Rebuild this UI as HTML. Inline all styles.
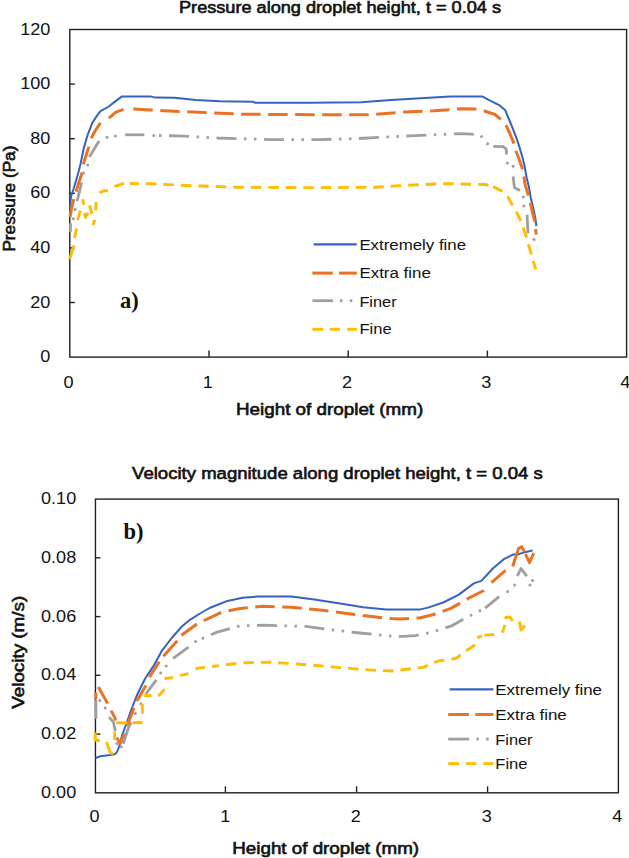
<!DOCTYPE html>
<html><head><meta charset="utf-8"><style>
html,body{margin:0;padding:0;background:#fff;width:629px;height:858px;overflow:hidden}
svg{display:block}
text{font-family:"Liberation Sans",sans-serif;fill:#111}
text.serif{font-family:"Liberation Serif",serif}
text.sb{stroke:#111;stroke-width:0.6px;paint-order:stroke}
</style></head><body>
<svg width="629" height="858" viewBox="0 0 629 858">
<rect width="629" height="858" fill="#fff"/>
<text x="179" y="13.4" font-size="16" class="sb" textLength="322" lengthAdjust="spacingAndGlyphs">Pressure along droplet height, t = 0.04 s</text>
<rect x="69.8" y="29.5" width="556.8000000000001" height="327.6" fill="none" stroke="#222" stroke-width="1.4"/>
<line x1="69.8" y1="302.5" x2="74.8" y2="302.5" stroke="#222" stroke-width="1.4"/>
<line x1="69.8" y1="247.9" x2="74.8" y2="247.9" stroke="#222" stroke-width="1.4"/>
<line x1="69.8" y1="193.3" x2="74.8" y2="193.3" stroke="#222" stroke-width="1.4"/>
<line x1="69.8" y1="138.7" x2="74.8" y2="138.7" stroke="#222" stroke-width="1.4"/>
<line x1="69.8" y1="84.1" x2="74.8" y2="84.1" stroke="#222" stroke-width="1.4"/>
<line x1="209.0" y1="357.1" x2="209.0" y2="350.6" stroke="#222" stroke-width="1.4"/>
<line x1="348.2" y1="357.1" x2="348.2" y2="350.6" stroke="#222" stroke-width="1.4"/>
<line x1="487.4" y1="357.1" x2="487.4" y2="350.6" stroke="#222" stroke-width="1.4"/>
<text transform="translate(50.3,362.1) scale(1.13,1)" font-size="16" text-anchor="end">0</text>
<text transform="translate(50.3,307.5) scale(1.13,1)" font-size="16" text-anchor="end">20</text>
<text transform="translate(50.3,252.9) scale(1.13,1)" font-size="16" text-anchor="end">40</text>
<text transform="translate(50.3,198.3) scale(1.13,1)" font-size="16" text-anchor="end">60</text>
<text transform="translate(50.3,143.7) scale(1.13,1)" font-size="16" text-anchor="end">80</text>
<text transform="translate(50.3,89.1) scale(1.13,1)" font-size="16" text-anchor="end">100</text>
<text transform="translate(50.3,34.5) scale(1.13,1)" font-size="16" text-anchor="end">120</text>
<text transform="translate(68.6,387.7) scale(1.13,1)" font-size="16" text-anchor="middle">0</text>
<text transform="translate(207.8,387.7) scale(1.13,1)" font-size="16" text-anchor="middle">1</text>
<text transform="translate(347.0,387.7) scale(1.13,1)" font-size="16" text-anchor="middle">2</text>
<text transform="translate(486.2,387.7) scale(1.13,1)" font-size="16" text-anchor="middle">3</text>
<text transform="translate(625.4,387.7) scale(1.13,1)" font-size="16" text-anchor="middle">4</text>
<text transform="translate(14.9,198.6) rotate(-90)" font-size="16" class="sb" text-anchor="middle" textLength="106" lengthAdjust="spacingAndGlyphs">Pressure (Pa)</text>
<text x="236" y="415.2" font-size="16" class="sb" textLength="187.2" lengthAdjust="spacingAndGlyphs">Height of droplet (mm)</text>
<text x="120" y="307.9" font-size="22.5" font-weight="bold" class="serif">a)</text>
<path d="M70.10,206.60 L71.00,196.40 L73.30,189.80 L76.10,180.50 L78.50,172.00 L80.50,164.00 L83.70,148.50 L87.50,135.40 L92.10,123.30 L96.80,115.90 L100.50,111.20 L108.00,107.00 L116.00,100.90 L122.00,96.40 L150.60,96.40 L155.40,97.60 L174.30,97.70 L196.00,99.90 L220.00,101.20 L252.70,101.80 L255.40,102.80 L310.00,102.80 L361.40,102.30 L391.00,100.10 L428.90,97.70 L450.50,96.40 L482.30,96.40 L488.60,99.90 L499.70,105.40 L505.30,110.30 L507.10,114.90 L509.90,121.50 L513.70,130.80 L516.90,139.20 L519.30,146.60 L522.10,156.00 L524.40,165.30 L526.60,177.50 L528.90,186.80 L530.80,198.00 L533.10,207.30 L535.40,218.50 L536.40,226.00" fill="none" stroke="#3563BF" stroke-width="2.0" stroke-linejoin="round"/>
<path d="M126.00,109.32 L133.10,109.10 L150.60,109.90 L163.50,110.70 L204.00,112.60 L241.90,114.20 L312.00,114.70 L369.50,114.70 L404.60,112.00 L434.30,110.70 L461.40,108.80 L477.50,109.10 L484.40,111.00 L495.00,114.50 L501.10,119.60 L506.20,125.70" fill="none" stroke="#EB7222" stroke-width="3" stroke-linejoin="round" stroke-dasharray="19.5 7.5" stroke-dashoffset="127.70"/>
<path d="M506.20,125.70 L509.90,133.60 L513.70,142.90 L516.00,151.30 L519.30,159.70 L522.50,169.00 L523.80,176.50 L525.20,184.90 L528.00,194.30 L530.80,204.50 L532.60,212.90 L535.00,222.20 L535.90,232.50 L536.80,234.50" fill="none" stroke="#EB7222" stroke-width="3" stroke-linejoin="round" stroke-dasharray="19.5 7.5" stroke-dashoffset="0.00"/>
<path d="M70.10,216.90 L71.50,208.00 L73.80,199.20" fill="none" stroke="#EB7222" stroke-width="3" stroke-linejoin="round"/>
<path d="M76.10,191.70 L79.00,182.00 L82.20,172.60" fill="none" stroke="#EB7222" stroke-width="3" stroke-linejoin="round"/>
<path d="M83.30,164.40 L86.00,155.50 L88.90,146.60" fill="none" stroke="#EB7222" stroke-width="3" stroke-linejoin="round"/>
<path d="M91.20,138.20 L95.00,131.00 L100.50,122.90" fill="none" stroke="#EB7222" stroke-width="3" stroke-linejoin="round"/>
<path d="M108.90,118.20 L116.00,112.10 L123.60,109.40" fill="none" stroke="#EB7222" stroke-width="3" stroke-linejoin="round"/>
<path d="M158.00,135.64 L177.00,135.80 L217.60,138.00 L271.60,139.60 L320.00,139.60 L358.60,138.50 L410.00,135.80 L461.40,133.60 L471.40,134.10 L480.50,134.80 L484.70,142.50 L489.50,144.68" fill="none" stroke="#9F9F9F" stroke-width="2.8" stroke-linejoin="round" stroke-dasharray="20 7.5 2.5 7.5 2.5 7.5" stroke-dashoffset="178.96"/>
<path d="M70.50,231.80 L70.50,223.40" fill="none" stroke="#9F9F9F" stroke-width="2.8" stroke-linejoin="round"/>
<path d="M77.10,201.00 L81.70,182.40" fill="none" stroke="#9F9F9F" stroke-width="2.8" stroke-linejoin="round"/>
<path d="M89.30,156.90 L99.10,141.00" fill="none" stroke="#9F9F9F" stroke-width="2.8" stroke-linejoin="round"/>
<path d="M125.20,134.80 L144.30,134.80" fill="none" stroke="#9F9F9F" stroke-width="2.8" stroke-linejoin="round"/>
<path d="M493.30,146.40 L503.60,146.70 L506.40,149.50 L506.40,154.40" fill="none" stroke="#9F9F9F" stroke-width="2.8" stroke-linejoin="round"/>
<path d="M513.10,176.50 L514.50,187.70 L520.10,190.50" fill="none" stroke="#9F9F9F" stroke-width="2.8" stroke-linejoin="round"/>
<path d="M527.10,214.80 L528.00,233.40" fill="none" stroke="#9F9F9F" stroke-width="2.8" stroke-linejoin="round"/>
<circle cx="73.3" cy="218.7" r="1.50" fill="#9F9F9F"/>
<circle cx="75.2" cy="209.4" r="1.50" fill="#9F9F9F"/>
<circle cx="83.6" cy="173" r="1.50" fill="#9F9F9F"/>
<circle cx="87.8" cy="165.1" r="1.50" fill="#9F9F9F"/>
<circle cx="107" cy="137.3" r="1.50" fill="#9F9F9F"/>
<circle cx="115.4" cy="135.9" r="1.50" fill="#9F9F9F"/>
<circle cx="153.8" cy="135.6" r="1.50" fill="#9F9F9F"/>
<circle cx="507.4" cy="163" r="1.50" fill="#9F9F9F"/>
<circle cx="513.1" cy="166.3" r="1.50" fill="#9F9F9F"/>
<circle cx="523.3" cy="197.1" r="1.50" fill="#9F9F9F"/>
<circle cx="523.8" cy="205.9" r="1.50" fill="#9F9F9F"/>
<circle cx="534" cy="239.5" r="1.50" fill="#9F9F9F"/>
<path d="M130.00,183.55 L140.00,183.80 L150.00,183.60 L185.10,185.50 L236.50,187.20 L310.00,187.70 L374.90,187.20 L412.70,185.00 L445.10,183.60 L485.40,184.50 L493.10,186.60" fill="none" stroke="#FFBC00" stroke-width="2.9" stroke-linejoin="round" stroke-dasharray="10.5 7" stroke-dashoffset="176.62"/>
<path d="M493.10,186.60 L500.90,190.50 L507.90,197.10 L512.10,204.50 L515.90,211.00 L520.10,219.40 L522.90,226.90 L526.10,236.20 L528.40,244.30 L531.00,252.90 L533.20,261.20 L535.80,269.40" fill="none" stroke="#FFBC00" stroke-width="2.9" stroke-linejoin="round" stroke-dasharray="10.5 7" stroke-dashoffset="0.00"/>
<path d="M69.80,259.00 L72.00,252.00 L74.00,245.30" fill="none" stroke="#FFBC00" stroke-width="2.9" stroke-linejoin="round"/>
<path d="M74.50,238.00 L76.60,228.50" fill="none" stroke="#FFBC00" stroke-width="2.9" stroke-linejoin="round"/>
<path d="M77.60,220.10 L80.30,210.70" fill="none" stroke="#FFBC00" stroke-width="2.9" stroke-linejoin="round"/>
<path d="M82.60,199.20 L84.00,204.80" fill="none" stroke="#FFBC00" stroke-width="2.9" stroke-linejoin="round"/>
<path d="M84.50,213.10 L85.50,217.50 L88.10,212.80" fill="none" stroke="#FFBC00" stroke-width="2.9" stroke-linejoin="round"/>
<path d="M89.50,205.50 L92.00,214.10" fill="none" stroke="#FFBC00" stroke-width="2.9" stroke-linejoin="round"/>
<path d="M92.90,225.30 L94.80,219.70" fill="none" stroke="#FFBC00" stroke-width="2.9" stroke-linejoin="round"/>
<path d="M95.70,210.40 L96.20,202.00" fill="none" stroke="#FFBC00" stroke-width="2.9" stroke-linejoin="round"/>
<path d="M99.40,192.60 L104.00,190.80 L108.10,190.70" fill="none" stroke="#FFBC00" stroke-width="2.9" stroke-linejoin="round"/>
<path d="M114.40,186.50 L124.00,183.40" fill="none" stroke="#FFBC00" stroke-width="2.9" stroke-linejoin="round"/>
<line x1="313.7" y1="244.4" x2="356.8" y2="244.4" stroke="#3563BF" stroke-width="2.2"/>
<text x="359.4" y="250.0" font-size="15.3" textLength="106.7" lengthAdjust="spacingAndGlyphs">Extremely fine</text>
<line x1="312.4" y1="273.1" x2="332.8" y2="273.1" stroke="#EB7222" stroke-width="3"/>
<line x1="339.0" y1="273.1" x2="356.8" y2="273.1" stroke="#EB7222" stroke-width="3"/>
<text x="359.4" y="278.2" font-size="15.3" textLength="71.5" lengthAdjust="spacingAndGlyphs">Extra fine</text>
<line x1="312.4" y1="300.7" x2="333.0" y2="300.7" stroke="#9F9F9F" stroke-width="2.8"/>
<line x1="340.0" y1="300.7" x2="342.5" y2="300.7" stroke="#9F9F9F" stroke-width="2.8"/>
<line x1="349.8" y1="300.7" x2="352.3" y2="300.7" stroke="#9F9F9F" stroke-width="2.8"/>
<text x="359.4" y="306.8" font-size="15.3" textLength="37.2" lengthAdjust="spacingAndGlyphs">Finer</text>
<line x1="312.4" y1="329.3" x2="323.3" y2="329.3" stroke="#FFBC00" stroke-width="2.9"/>
<line x1="329.9" y1="329.3" x2="339.9" y2="329.3" stroke="#FFBC00" stroke-width="2.9"/>
<line x1="347.0" y1="329.3" x2="356.8" y2="329.3" stroke="#FFBC00" stroke-width="2.9"/>
<text x="359.4" y="334.0" font-size="15.3" textLength="32.3" lengthAdjust="spacingAndGlyphs">Fine</text>
<text x="132.1" y="479.2" font-size="16" class="sb" textLength="410.7" lengthAdjust="spacingAndGlyphs">Velocity magnitude along droplet height, t = 0.04 s</text>
<rect x="95.45" y="499.1" width="522.9499999999999" height="293.69999999999993" fill="none" stroke="#222" stroke-width="1.4"/>
<line x1="95.45" y1="734.1" x2="100.45" y2="734.1" stroke="#222" stroke-width="1.4"/>
<line x1="95.45" y1="675.3" x2="100.45" y2="675.3" stroke="#222" stroke-width="1.4"/>
<line x1="95.45" y1="616.6" x2="100.45" y2="616.6" stroke="#222" stroke-width="1.4"/>
<line x1="95.45" y1="557.8" x2="100.45" y2="557.8" stroke="#222" stroke-width="1.4"/>
<line x1="225.4" y1="792.8" x2="225.4" y2="786.3" stroke="#222" stroke-width="1.4"/>
<line x1="356.6" y1="792.8" x2="356.6" y2="786.3" stroke="#222" stroke-width="1.4"/>
<line x1="487.6" y1="792.8" x2="487.6" y2="786.3" stroke="#222" stroke-width="1.4"/>
<text transform="translate(76.2,797.8) scale(1.13,1)" font-size="16" text-anchor="end">0.00</text>
<text transform="translate(76.2,739.1) scale(1.13,1)" font-size="16" text-anchor="end">0.02</text>
<text transform="translate(76.2,680.3) scale(1.13,1)" font-size="16" text-anchor="end">0.04</text>
<text transform="translate(76.2,621.6) scale(1.13,1)" font-size="16" text-anchor="end">0.06</text>
<text transform="translate(76.2,562.8) scale(1.13,1)" font-size="16" text-anchor="end">0.08</text>
<text transform="translate(76.2,504.1) scale(1.13,1)" font-size="16" text-anchor="end">0.10</text>
<text transform="translate(94.5,821.7) scale(1.13,1)" font-size="16" text-anchor="middle">0</text>
<text transform="translate(225.2,821.7) scale(1.13,1)" font-size="16" text-anchor="middle">1</text>
<text transform="translate(355.9,821.7) scale(1.13,1)" font-size="16" text-anchor="middle">2</text>
<text transform="translate(486.7,821.7) scale(1.13,1)" font-size="16" text-anchor="middle">3</text>
<text transform="translate(617.4,821.7) scale(1.13,1)" font-size="16" text-anchor="middle">4</text>
<text transform="translate(24,652.3) rotate(-90)" font-size="16" class="sb" text-anchor="middle" textLength="113" lengthAdjust="spacingAndGlyphs">Velocity (m/s)</text>
<text x="232.3" y="853.7" font-size="16" class="sb" textLength="186.8" lengthAdjust="spacingAndGlyphs">Height of droplet (mm)</text>
<text x="123.4" y="538.8" font-size="22.5" font-weight="bold" class="serif">b)</text>
<path d="M95.60,758.00 L100.30,756.20 L110.50,754.90 L115.40,754.00 L117.30,751.20 L119.00,747.10 L122.20,735.00 L126.50,723.50 L131.00,710.50 L136.80,695.50 L140.20,688.50 L145.20,678.50 L153.60,665.90 L162.00,650.60 L171.70,638.00 L181.50,626.80 L189.90,619.80 L200.00,613.50 L209.60,608.00 L227.40,600.90 L242.60,597.80 L257.20,596.60 L291.50,596.60 L314.40,599.50 L340.20,603.50 L363.10,607.20 L386.00,609.50 L420.40,609.40 L428.00,607.60 L443.20,602.50 L458.50,594.90 L473.80,583.40 L481.40,580.90 L492.80,568.50 L504.40,558.80 L513.30,554.40 L518.50,554.40 L523.60,552.40 L532.60,550.50" fill="none" stroke="#3563BF" stroke-width="2.0" stroke-linejoin="round"/>
<path d="M200.00,622.51 L222.30,611.80 L240.00,608.60 L262.90,606.30 L291.50,607.20 L320.10,610.00 L348.80,613.80 L371.70,616.60 L391.70,618.60 L400.00,619.00 L420.40,617.80 L435.60,614.00 L450.90,608.40 L468.70,598.20 L483.90,590.50 L485.00,589.36" fill="none" stroke="#EB7222" stroke-width="3" stroke-linejoin="round" stroke-dasharray="19.5 7.5" stroke-dashoffset="211.94"/>
<path d="M95.90,699.10 L95.90,692.60" fill="none" stroke="#EB7222" stroke-width="3" stroke-linejoin="round"/>
<path d="M98.30,686.90 L107.70,703.60" fill="none" stroke="#EB7222" stroke-width="3" stroke-linejoin="round"/>
<path d="M111.00,710.60 L115.00,717.90 L115.40,720.40" fill="none" stroke="#EB7222" stroke-width="3" stroke-linejoin="round"/>
<path d="M116.70,737.50 L120.00,743.50 L122.40,738.30 L124.50,733.50" fill="none" stroke="#EB7222" stroke-width="3" stroke-linejoin="round"/>
<path d="M127.00,726.10 L134.00,707.90" fill="none" stroke="#EB7222" stroke-width="3" stroke-linejoin="round"/>
<path d="M136.80,700.90 L145.90,685.50" fill="none" stroke="#EB7222" stroke-width="3" stroke-linejoin="round"/>
<path d="M149.40,677.10 L159.20,661.70" fill="none" stroke="#EB7222" stroke-width="3" stroke-linejoin="round"/>
<path d="M163.40,656.20 L177.30,640.80" fill="none" stroke="#EB7222" stroke-width="3" stroke-linejoin="round"/>
<path d="M181.50,635.20 L196.90,624.00" fill="none" stroke="#EB7222" stroke-width="3" stroke-linejoin="round"/>
<path d="M491.50,582.60 L505.60,570.40" fill="none" stroke="#EB7222" stroke-width="3" stroke-linejoin="round"/>
<path d="M512.70,566.50 L518.50,548.60 L521.70,546.70 L524.20,551.20" fill="none" stroke="#EB7222" stroke-width="3" stroke-linejoin="round"/>
<path d="M525.50,554.00 L529.40,562.70 L532.60,555.60 L533.80,553.10" fill="none" stroke="#EB7222" stroke-width="3" stroke-linejoin="round"/>
<path d="M200.00,639.55 L217.20,632.10 L240.00,625.80 L262.90,625.20 L305.80,626.40 L334.40,630.10 L360.20,633.00 L397.40,636.70 L415.30,635.60 L433.10,631.80 L450.90,626.20 L466.10,617.80 L484.00,608.76" fill="none" stroke="#9F9F9F" stroke-width="2.8" stroke-linejoin="round" stroke-dasharray="20 7.5 2.5 7.5 2.5 7.5" stroke-dashoffset="225.62"/>
<path d="M95.90,718.70 L95.90,699.60" fill="none" stroke="#9F9F9F" stroke-width="2.8" stroke-linejoin="round"/>
<path d="M108.90,717.10 L113.40,722.00 L114.60,727.70 L115.40,731.00" fill="none" stroke="#9F9F9F" stroke-width="2.8" stroke-linejoin="round"/>
<path d="M123.00,743.80 L124.50,739.70 L128.20,728.50 L131.20,722.30" fill="none" stroke="#9F9F9F" stroke-width="2.8" stroke-linejoin="round"/>
<path d="M145.90,693.90 L156.40,679.90" fill="none" stroke="#9F9F9F" stroke-width="2.8" stroke-linejoin="round"/>
<path d="M173.10,658.30 L188.50,647.10" fill="none" stroke="#9F9F9F" stroke-width="2.8" stroke-linejoin="round"/>
<path d="M485.10,608.20 L499.20,596.70" fill="none" stroke="#9F9F9F" stroke-width="2.8" stroke-linejoin="round"/>
<path d="M517.20,576.20 L521.00,568.50 L526.80,576.20" fill="none" stroke="#9F9F9F" stroke-width="2.8" stroke-linejoin="round"/>
<circle cx="99.9" cy="700.4" r="1.50" fill="#9F9F9F"/>
<circle cx="105.2" cy="708.1" r="1.50" fill="#9F9F9F"/>
<circle cx="116.9" cy="743.4" r="1.50" fill="#9F9F9F"/>
<circle cx="121.2" cy="746.7" r="1.50" fill="#9F9F9F"/>
<circle cx="135.4" cy="713.5" r="1.50" fill="#9F9F9F"/>
<circle cx="141" cy="703.7" r="1.50" fill="#9F9F9F"/>
<circle cx="160.6" cy="673" r="1.50" fill="#9F9F9F"/>
<circle cx="166.2" cy="666" r="1.50" fill="#9F9F9F"/>
<circle cx="195.5" cy="641.5" r="1.50" fill="#9F9F9F"/>
<circle cx="507.6" cy="591.5" r="1.50" fill="#9F9F9F"/>
<circle cx="514.6" cy="585.1" r="1.50" fill="#9F9F9F"/>
<circle cx="530" cy="585.1" r="1.50" fill="#9F9F9F"/>
<circle cx="532.6" cy="580.6" r="1.50" fill="#9F9F9F"/>
<path d="M212.00,666.49 L222.30,665.20 L240.00,663.00 L268.60,662.10 L291.50,663.60 L314.40,665.30 L340.20,667.60 L368.80,669.90 L391.70,671.00 L406.00,669.30 L422.90,667.40 L438.20,661.00 L456.00,658.50 L466.10,650.80 L473.80,645.70 L478.90,636.80 L482.00,635.86" fill="none" stroke="#FFBC00" stroke-width="2.9" stroke-linejoin="round" stroke-dasharray="10.5 7" stroke-dashoffset="195.96"/>
<path d="M95.30,732.60 L95.30,740.00 L99.90,740.80" fill="none" stroke="#FFBC00" stroke-width="2.9" stroke-linejoin="round"/>
<path d="M106.50,742.00 L110.00,751.80 L113.00,754.50" fill="none" stroke="#FFBC00" stroke-width="2.9" stroke-linejoin="round"/>
<path d="M114.60,740.00 L114.60,731.50" fill="none" stroke="#FFBC00" stroke-width="2.9" stroke-linejoin="round"/>
<path d="M116.30,722.80 L127.30,723.00" fill="none" stroke="#FFBC00" stroke-width="2.9" stroke-linejoin="round"/>
<path d="M132.50,722.70 L142.50,722.50" fill="none" stroke="#FFBC00" stroke-width="2.9" stroke-linejoin="round"/>
<path d="M142.40,713.70 L142.40,703.90" fill="none" stroke="#FFBC00" stroke-width="2.9" stroke-linejoin="round"/>
<path d="M143.50,695.70 L151.50,695.50" fill="none" stroke="#FFBC00" stroke-width="2.9" stroke-linejoin="round"/>
<path d="M158.50,696.00 L163.00,691.00 L164.50,689.00" fill="none" stroke="#FFBC00" stroke-width="2.9" stroke-linejoin="round"/>
<path d="M164.60,678.50 L173.10,677.80" fill="none" stroke="#FFBC00" stroke-width="2.9" stroke-linejoin="round"/>
<path d="M180.10,675.70 L188.50,673.60" fill="none" stroke="#FFBC00" stroke-width="2.9" stroke-linejoin="round"/>
<path d="M195.50,668.70 L200.00,668.00 L205.00,667.40" fill="none" stroke="#FFBC00" stroke-width="2.9" stroke-linejoin="round"/>
<path d="M484.50,635.10 L494.10,634.50" fill="none" stroke="#FFBC00" stroke-width="2.9" stroke-linejoin="round"/>
<path d="M502.40,632.60 L505.00,624.90" fill="none" stroke="#FFBC00" stroke-width="2.9" stroke-linejoin="round"/>
<path d="M505.40,619.00 L506.00,617.20 L510.10,617.20 L512.70,621.00" fill="none" stroke="#FFBC00" stroke-width="2.9" stroke-linejoin="round"/>
<path d="M519.50,621.50 L521.00,630.00 L524.90,625.50" fill="none" stroke="#FFBC00" stroke-width="2.9" stroke-linejoin="round"/>
<line x1="449.6" y1="689.3" x2="493.3" y2="689.3" stroke="#3563BF" stroke-width="2.2"/>
<text x="495.3" y="694.6" font-size="15.3" textLength="106.7" lengthAdjust="spacingAndGlyphs">Extremely fine</text>
<line x1="448.2" y1="714.5" x2="468.9" y2="714.5" stroke="#EB7222" stroke-width="3"/>
<line x1="475.3" y1="714.5" x2="493.3" y2="714.5" stroke="#EB7222" stroke-width="3"/>
<text x="495.3" y="719.6" font-size="15.3" textLength="71.5" lengthAdjust="spacingAndGlyphs">Extra fine</text>
<line x1="448.2" y1="739.1" x2="469.2" y2="739.1" stroke="#9F9F9F" stroke-width="2.8"/>
<line x1="476.3" y1="739.1" x2="478.8" y2="739.1" stroke="#9F9F9F" stroke-width="2.8"/>
<line x1="486.2" y1="739.1" x2="488.7" y2="739.1" stroke="#9F9F9F" stroke-width="2.8"/>
<text x="495.3" y="744.5" font-size="15.3" textLength="37.2" lengthAdjust="spacingAndGlyphs">Finer</text>
<line x1="448.2" y1="763.6" x2="459.2" y2="763.6" stroke="#FFBC00" stroke-width="2.9"/>
<line x1="466.0" y1="763.6" x2="476.2" y2="763.6" stroke="#FFBC00" stroke-width="2.9"/>
<line x1="483.4" y1="763.6" x2="493.3" y2="763.6" stroke="#FFBC00" stroke-width="2.9"/>
<text x="495.3" y="769.2" font-size="15.3" textLength="32.3" lengthAdjust="spacingAndGlyphs">Fine</text>
</svg>
</body></html>
